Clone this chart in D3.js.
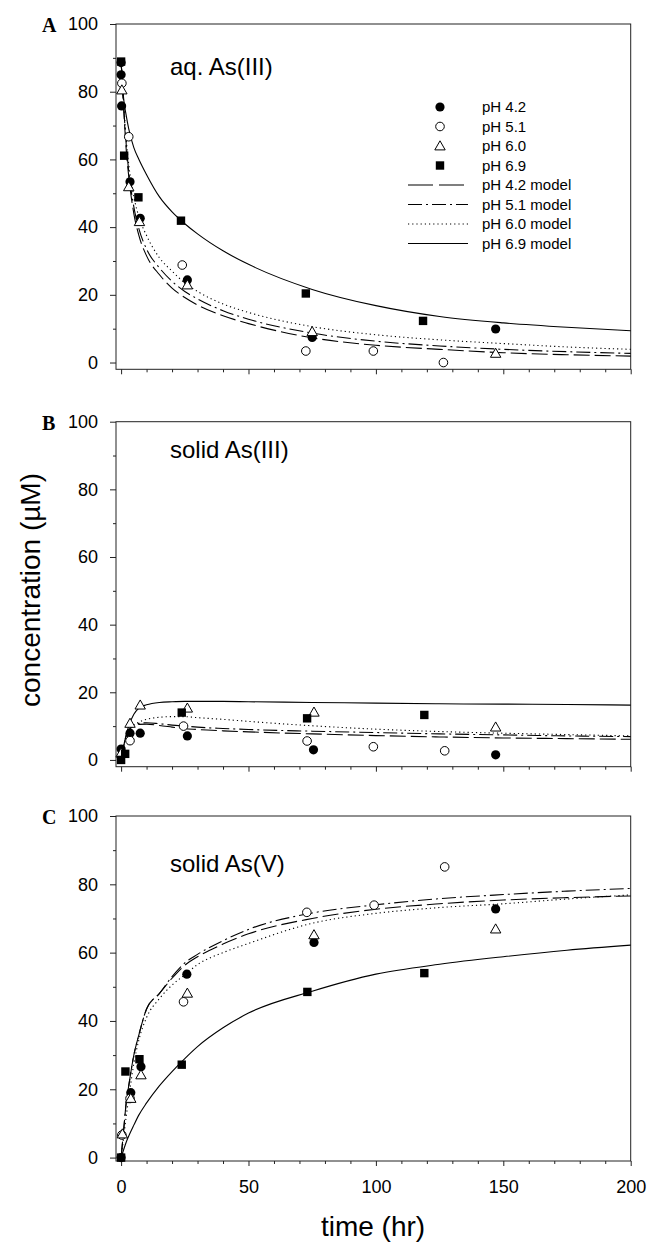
<!DOCTYPE html>
<html>
<head>
<meta charset="utf-8">
<script src="https://cdn.jsdelivr.net/npm/d3@7"></script>
<style>
  body { margin: 0; background: #fff; }
  svg text { font-family: "Liberation Sans", Arial, sans-serif; fill: #000; }
</style>
</head>
<body>
<svg id="chart" width="650" height="1242"></svg>
<script>
// series labels
const phLabels = ["pH 4.2", "pH 5.1", "pH 6.0", "pH 6.9"];
const modelLabels = ["pH 4.2 model", "pH 5.1 model", "pH 6.0 model", "pH 6.9 model"];
const xTicks = [0, 50, 100, 150, 200];
const yTicks = [0, 20, 40, 60, 80, 100];

// measured points [time hr, conc uM]
const aq42 = [[0, 88.6], [0, 85], [0.2, 75.8], [3.5, 53.4], [7.5, 42.6], [26, 24.4], [75, 7.4], [147, 9.9]];
const aq51 = [[0.3, 82.5], [3, 66.7], [24, 28.8], [72.5, 3.4], [99, 3.4], [126.5, 0]];
const aq60 = [[0.3, 80.5], [3, 51.9], [7.2, 41.6], [26, 22.9], [75, 9.1], [147, 2.7]];
const aq69 = [[0, 88.9], [1.2, 61.1], [6.8, 48.8], [23.5, 41.9], [72.5, 20.4], [118.5, 12.3]];

const sol3_42 = [[0, 3.2], [3.5, 7.9], [7.5, 7.9], [26, 7.1], [75.5, 3], [147, 1.5]];
const sol3_51 = [[3.5, 5.7], [24.5, 10], [73, 5.6], [99, 3.9], [127, 2.7]];
const sol3_60 = [[0, 2], [3.5, 10.8], [7.5, 16.2], [26, 15.3], [75.7, 14.1], [147, 9.7]];
const sol3_69 = [[0, 0], [1.6, 1.8], [23.8, 14], [73, 12.3], [119, 13.3]];

const sol5_42 = [[0, 0], [3.8, 19], [7.8, 26.6], [25.8, 53.7], [75.7, 63], [147, 72.8]];
const sol5_51 = [[0.3, 6.6], [3.5, 17.3], [24.5, 45.6], [72.9, 71.8], [99.3, 73.9], [127, 85.1]];
const sol5_60 = [[0.5, 6.9], [3.8, 17.3], [7.8, 24.2], [26, 48.1], [75.7, 65.2], [147, 66.9]];
const sol5_69 = [[0, 0], [1.7, 25.2], [7.2, 28.8], [23.8, 27.2], [73.1, 48.5], [119, 54]];

// model output times and values
const modelT = [0, 1, 2, 3, 5, 7, 10, 15, 20, 25, 30, 40, 50, 75, 100, 125, 150, 175, 200];

const aqM42 = [89, 75, 63, 55, 44, 37.5, 31.5, 26, 22, 19.2, 17, 13.8, 11.5, 7.3, 5.1, 3.9, 2.9, 2.3, 1.9];
const aqM51 = [89, 76, 64.5, 56.5, 46, 39.5, 33.5, 28, 24, 21, 18.8, 15.3, 12.8, 8.7, 6.3, 4.9, 3.9, 3.2, 2.7];
const aqM60 = [89, 77, 66, 58.5, 49, 43, 37.5, 31, 27, 23.5, 21, 17.3, 14.8, 10.6, 8.2, 6.7, 5.6, 4.6, 3.9];
const aqM69 = [89, 78, 73, 69, 63.5, 60, 55.5, 49, 44.5, 41, 38, 33, 29, 21.6, 16.8, 13.6, 11.7, 10.4, 9.4];

const sol3M42 = [0, 4, 7, 8.7, 10, 10.5, 10.6, 10.2, 9.7, 9.2, 9, 8.6, 8.3, 7.7, 7.2, 6.8, 6.5, 6.3, 6.1];
const sol3M51 = [0, 4, 7, 8.8, 10.2, 10.8, 11, 10.7, 10.3, 10, 9.7, 9.3, 9, 8.5, 8.1, 7.7, 7.4, 7.1, 6.9];
const sol3M60 = [0, 4, 7, 8.8, 10.3, 11.2, 12, 12.6, 12.8, 12.8, 12.5, 12, 11.4, 10.1, 9.1, 8.4, 7.9, 7.5, 7.1];
const sol3M69 = [0, 4, 7.5, 10, 13.5, 15.3, 16.3, 17, 17.2, 17.3, 17.3, 17.3, 17.2, 17, 16.8, 16.6, 16.5, 16.4, 16.2];

const sol5M42 = [0, 8, 16, 21, 30, 36, 43.5, 48, 52.5, 56.3, 58.8, 62.5, 65.5, 70, 72.7, 74.3, 75.4, 76.1, 76.6];
const sol5M51 = [0, 8, 16, 21, 30, 36, 43.5, 48, 53, 57, 59.5, 63.5, 66.8, 71.6, 74, 75.8, 77, 78, 78.8];
const sol5M60 = [0, 6, 12, 17.5, 27.5, 34.5, 41, 46.5, 50.5, 53.5, 56.5, 60, 62.7, 68.6, 71.5, 73.2, 74.3, 75.7, 76.9];
const sol5M69 = [0, 2.3, 4.5, 6.3, 9.5, 12.5, 16, 21, 25.2, 29, 32.5, 38, 42.3, 48.7, 53.7, 56.6, 58.8, 60.7, 62.2];

// line style per pH: dashed, dash-dot, dotted, solid
const dashes = ["16,5", "14,4,2,4", "1.2,3", null];
const shapes = ["dot", "ring", "tri", "sq"];

const svg = d3.select("#chart");
const left = 116, right = 630.7;

const x = d3.scaleLinear().domain([-2, 200]).range([left, right]);

const panels = [
  { letter: "A", title: "aq. As(III)", top: 24, bottom: 369.3, ymin: -2, titleY: 75,
    pts: [aq42, aq51, aq60, aq69], models: [aqM42, aqM51, aqM60, aqM69] },
  { letter: "B", title: "solid As(III)", top: 421.7, bottom: 766.7, ymin: -2, titleY: 458,
    pts: [sol3_42, sol3_51, sol3_60, sol3_69], models: [sol3M42, sol3M51, sol3M60, sol3M69] },
  { letter: "C", title: "solid As(V)", top: 816, bottom: 1161, ymin: -1, titleY: 872,
    pts: [sol5_42, sol5_51, sol5_60, sol5_69], models: [sol5M42, sol5M51, sol5M60, sol5M69] }
];

function drawMarker(g, kind, cx, cy) {
  if (kind === "dot") {
    g.append("circle").attr("cx", cx).attr("cy", cy).attr("r", 4.6).attr("fill", "#000");
  } else if (kind === "ring") {
    g.append("circle").attr("cx", cx).attr("cy", cy).attr("r", 4.3)
      .attr("fill", "#fff").attr("stroke", "#000").attr("stroke-width", 1);
  } else if (kind === "tri") {
    const s = 5.2;
    g.append("path")
      .attr("d", `M${cx},${cy - s}L${cx + s},${cy + s * 0.75}L${cx - s},${cy + s * 0.75}Z`)
      .attr("fill", "#fff").attr("stroke", "#000").attr("stroke-width", 1);
  } else {
    g.append("rect").attr("x", cx - 4.2).attr("y", cy - 4.2).attr("width", 8.4).attr("height", 8.4)
      .attr("fill", "#000");
  }
}

panels.forEach((p, pi) => {
  const y = d3.scaleLinear().domain([p.ymin, 100]).range([p.bottom, p.top]);
  const g = svg.append("g");

  // y axis: major and minor ticks
  const yAx = g.append("g").attr("transform", `translate(${left},0)`)
    .call(d3.axisLeft(y).tickValues(yTicks).tickSize(6).tickPadding(12));
  yAx.select(".domain").remove();
  yAx.selectAll("text").style("font-size", "18px");
  g.append("g").attr("transform", `translate(${left},0)`)
    .call(d3.axisLeft(y).tickValues([10, 30, 50, 70, 90]).tickSize(3).tickFormat(""))
    .select(".domain").remove();

  // x axis on the bottom edge, labels only on the last panel
  const xAx = g.append("g").attr("transform", `translate(0,${p.bottom})`)
    .call(d3.axisBottom(x).tickValues(xTicks).tickSize(5).tickPadding(14)
      .tickFormat(pi === 2 ? d3.format("d") : ""));
  xAx.select(".domain").remove();
  xAx.selectAll("text").style("font-size", "18px");
  g.append("g").attr("transform", `translate(0,${p.bottom})`)
    .call(d3.axisBottom(x).tickValues(d3.range(10, 200, 10).filter(v => v % 50)).tickSize(3).tickFormat(""))
    .select(".domain").remove();

  g.selectAll(".tick line").attr("stroke", "#222");

  g.append("rect")
    .attr("x", left).attr("y", p.top)
    .attr("width", right - left).attr("height", p.bottom - p.top)
    .attr("fill", "none").attr("stroke", "#222").attr("stroke-width", 1);

  // model curves
  const line = d3.line()
    .x((d, i) => x(modelT[i]))
    .y(d => y(d))
    .curve(d3.curveMonotoneX);
  p.models.forEach((vals, i) => {
    g.append("path")
      .attr("d", line(vals))
      .attr("fill", "none")
      .attr("stroke", "#000")
      .attr("stroke-width", 1.1)
      .attr("stroke-dasharray", dashes[i]);
  });

  // measured points
  p.pts.forEach((pts, i) => {
    pts.forEach(d => drawMarker(g, shapes[i], x(d[0]), y(d[1])));
  });

  g.append("text")
    .attr("x", 42).attr("y", p.top + 8)
    .style("font-family", "'Liberation Serif', 'Times New Roman', serif")
    .style("font-weight", "bold")
    .style("font-size", "20px")
    .text(p.letter);

  g.append("text")
    .attr("x", 170).attr("y", p.titleY)
    .style("font-size", "24px")
    .text(p.title);
});

// legend in the first panel
const leg = svg.append("g");
const rowY = i => 107 + i * 19.5;
phLabels.forEach((lab, i) => {
  drawMarker(leg, shapes[i], 440, rowY(i));
  leg.append("text").attr("x", 482).attr("y", rowY(i)).attr("dy", "0.35em")
    .style("font-size", "15px").text(lab);
});
modelLabels.forEach((lab, i) => {
  const yy = rowY(i + 4);
  leg.append("line").attr("x1", 408).attr("x2", 468).attr("y1", yy).attr("y2", yy)
    .attr("stroke", "#000").attr("stroke-width", 1.1)
    .attr("stroke-dasharray", i === 0 ? "25,6" : dashes[i]);
  leg.append("text").attr("x", 482).attr("y", yy).attr("dy", "0.35em")
    .style("font-size", "15px").text(lab);
});

// axis titles
svg.append("text")
  .attr("transform", "translate(40,590) rotate(-90)")
  .attr("text-anchor", "middle")
  .style("font-size", "28px")
  .text("concentration (\u00b5M)");

svg.append("text")
  .attr("x", 373).attr("y", 1236)
  .attr("text-anchor", "middle")
  .style("font-size", "28px")
  .text("time (hr)");
</script>
</body>
</html>
